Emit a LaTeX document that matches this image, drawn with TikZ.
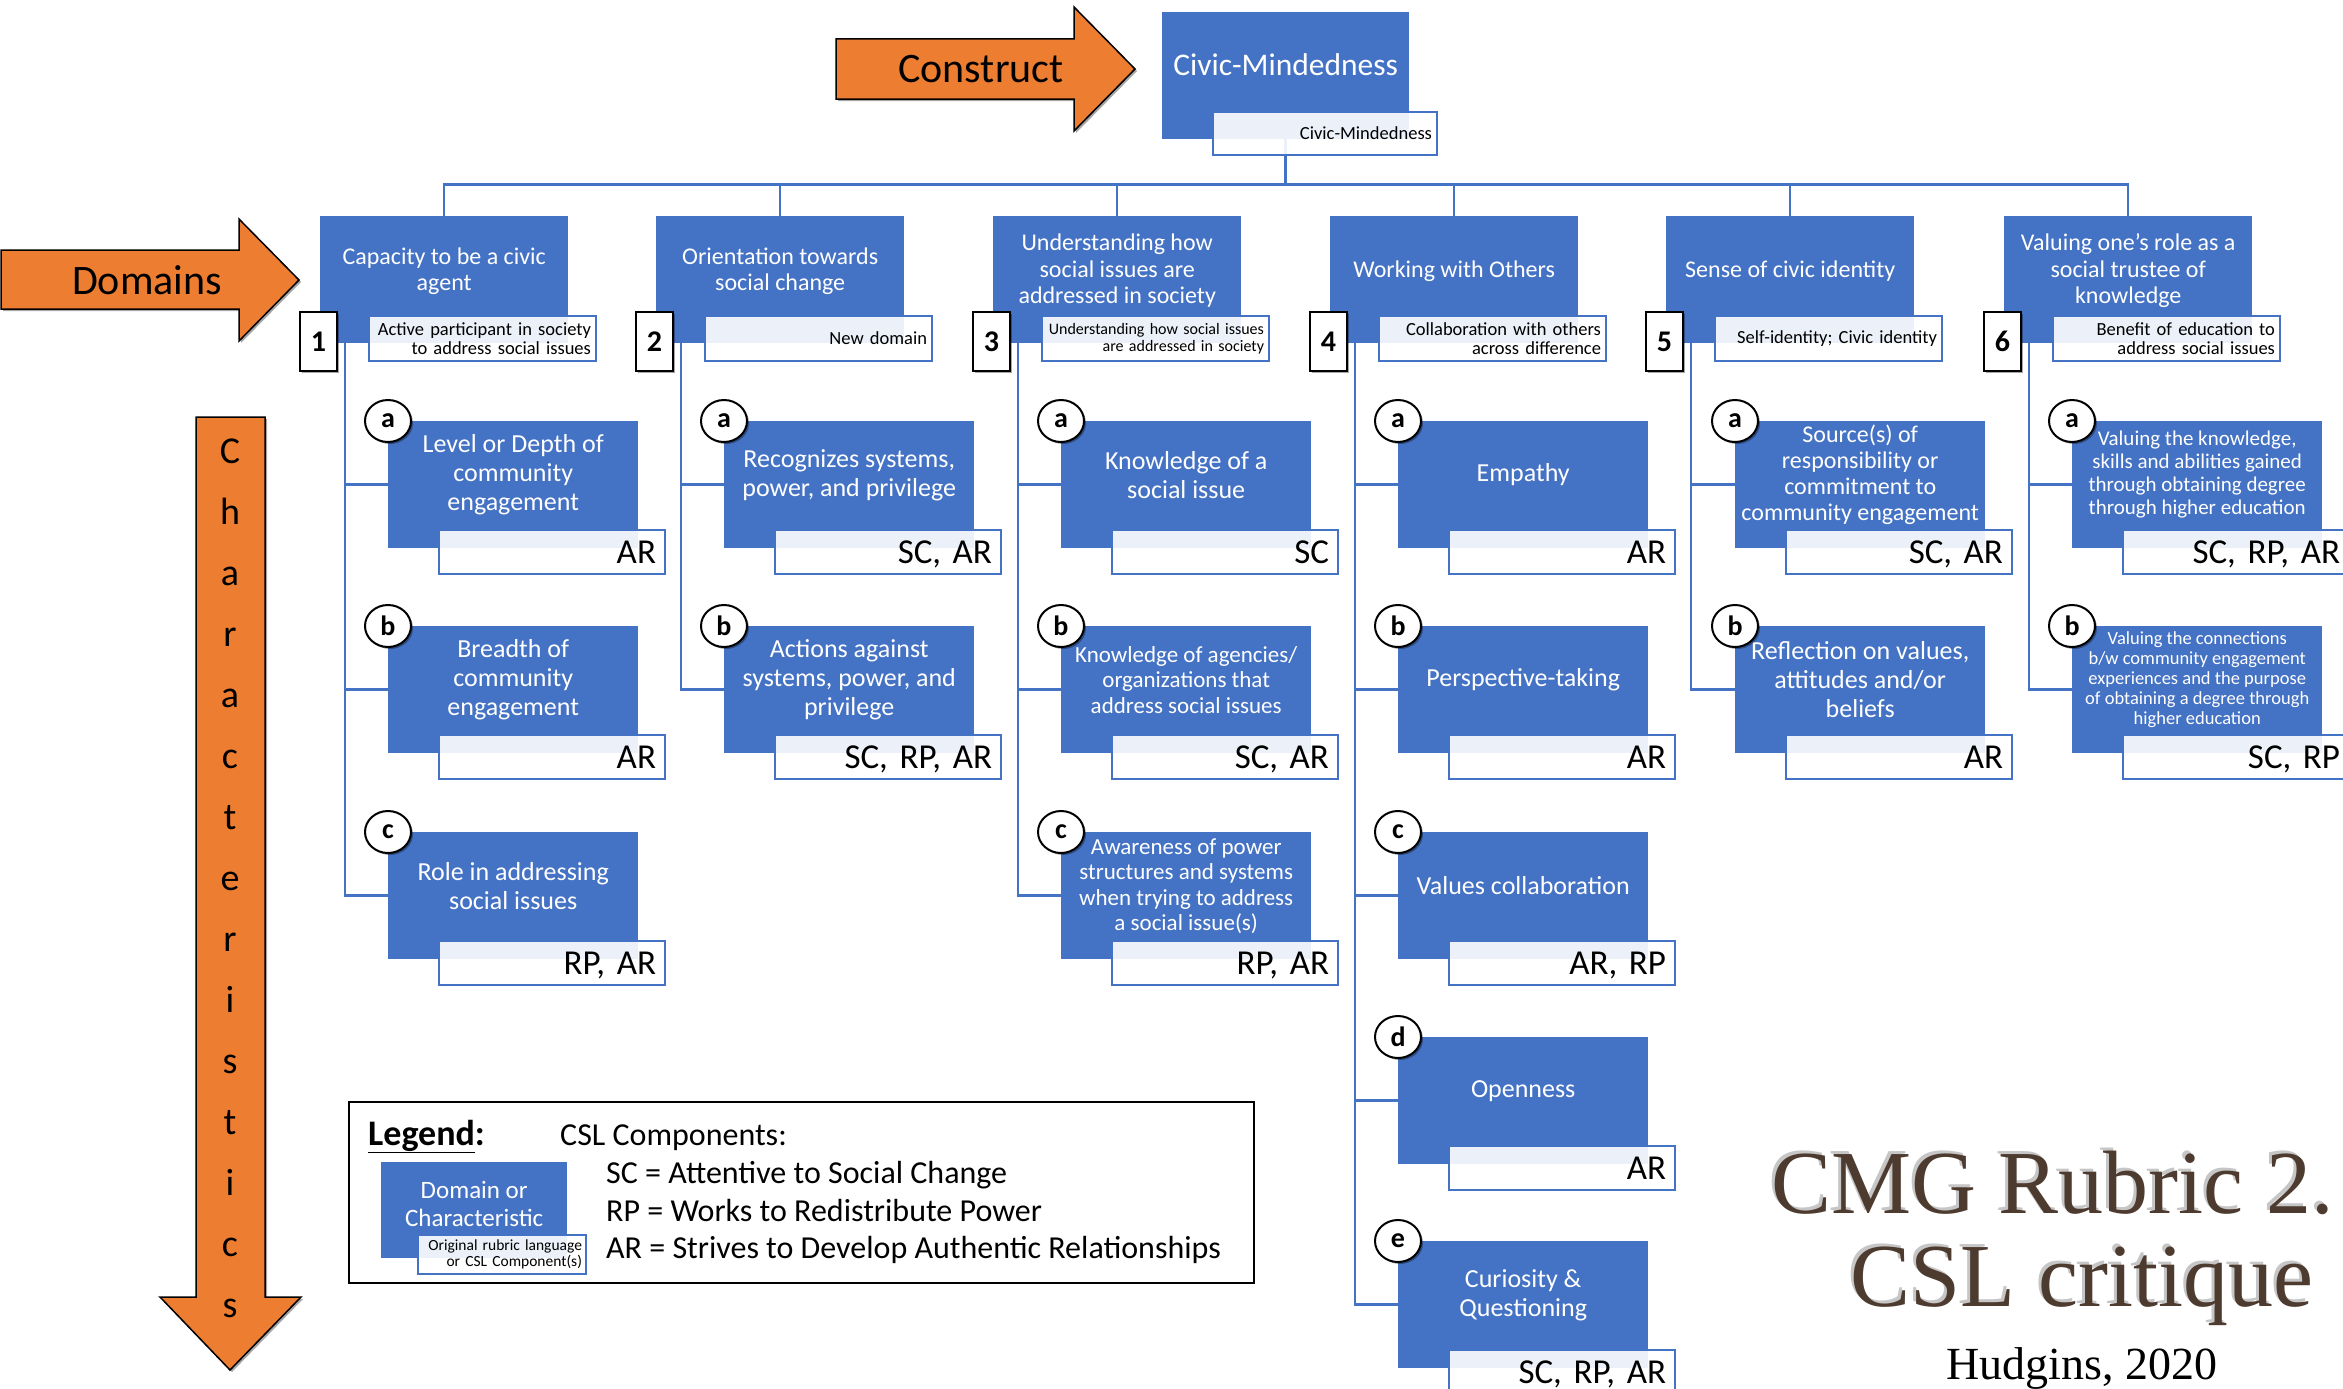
\documentclass[tikz,border=0pt]{standalone}
\usepackage{fontspec}
\setmainfont{Carlito}
\newfontfamily\titlefont{Liberation Serif}
\usetikzlibrary{shapes.geometric,backgrounds,shadows}

\definecolor{myblue}{HTML}{4472C4}
\definecolor{arroworange}{HTML}{ED7D31}
\definecolor{titlebrown}{HTML}{4E3B30}

\tikzset{
  conn/.style={draw=myblue, line width=2.5},
  dbox/.style={fill=myblue, minimum width=248, minimum height=127, anchor=north west, inner sep=0},
  cbox/.style={fill=myblue, minimum width=250, minimum height=127, anchor=north west, inner sep=0},
  boxtext/.style={text=white, align=center, inner sep=0},
  subbox/.style={draw=myblue, line width=2, fill=white, fill opacity=0.9, text opacity=1,
    text=black, anchor=north west, inner ysep=0, align=right},
  dsub/.style={subbox, inner xsep=5, text width=217, minimum height=45},
  csub/.style={subbox, inner xsep=9, text width=208, minimum height=44,
    font=\fontsize{35}{35}\selectfont, text height=24, text depth=2},
  softshadow/.style={drop shadow={shadow xshift=2pt, shadow yshift=-2pt, opacity=0.35, fill=black}},
  numbox/.style={draw=black, line width=2, fill=white, minimum width=37, minimum height=59,
    anchor=north west, inner sep=0, font=\bfseries\fontsize{30}{30}\selectfont, softshadow},
  badge/.style={ellipse, draw=black, line width=2, fill=white, minimum width=46, minimum height=42,
    inner sep=0, font=\bfseries\fontsize{28}{28}\selectfont, softshadow},
  bigarrow/.style={fill=arroworange, draw=black, line width=1.5, line join=miter, softshadow},
  arrowtext/.style={font=\fontsize{42}{42}\selectfont, text=black, inner sep=0},
  legendline/.style={anchor=base west, inner sep=0, font=\fontsize{32}{32}\selectfont},
  titleline/.style={inner sep=0, font=\titlefont\fontsize{90}{90}\selectfont, text=titlebrown},
  titleshade/.style={titleline, text=gray, opacity=0.45},
}

% domain: name, left x, number, label, sub label, sub font size, sub line skip
\newcommand\domainnode[7]{%
  \node[dbox] (#1) at (#2,216) {};
  \node[boxtext, font=\fontsize{24}{26.5}\selectfont] (#1-t) at ([yshift=-55pt]#1.north) {#4};
  \node[dsub, font=\fontsize{#6}{#7}\selectfont] (#1-s) at (#2+48,315) {#5};
  \node[numbox] (#1-n) at (#2-21,311) {#3};
}

% characteristic: name, left x, top y, letter, label, font size, line skip, CSL components
\newcommand\charnode[8]{%
  \node[cbox] (#1) at (#2,#3) {};
  \node[boxtext, font=\fontsize{#6}{#7}\selectfont] (#1-t) at ([yshift=-54pt]#1.north) {#5};
  \node[csub] (#1-s) at (#2+50,#3+108) {#8};
  \node[badge] (#1-b) at (#1.north west) {#4};
}

\begin{document}
\begin{tikzpicture}[x=1pt, y=-1pt]
\useasboundingbox (0,0) rectangle (2343,1389);
\clip (0,0) rectangle (2343,1389);

% construct
\node[dbox, minimum width=247] (civic) at (1162,12) {};
\node[boxtext, font=\fontsize{31.5}{34}\selectfont] (civic-t) at ([yshift=-53pt]civic.north) {Civic-Mindedness};
\node[dsub, text width=214, minimum height=43, font=\fontsize{18.5}{19.5}\selectfont] (civic-s) at (1212,111) {Civic-Mindedness};

% domains
\domainnode{d1}{320}{1}{Capacity to be a civic\\agent}{Active participant in society\\to address social issues}{18.5}{19.5}
\domainnode{d2}{656}{2}{Orientation towards\\social change}{New domain}{18.5}{19.5}
\domainnode{d3}{993}{3}{Understanding how\\social issues are\\addressed in society}{Understanding how social issues\\are addressed in society}{16}{17}
\domainnode{d4}{1330}{4}{Working with Others}{Collaboration with others\\across difference}{18.5}{19.5}
\domainnode{d5}{1666}{5}{Sense of civic identity}{Self-identity; Civic identity}{18.5}{19.5}
\domainnode{d6}{2004}{6}{Valuing one’s role as a\\social trustee of\\knowledge}{Benefit of education to\\address social issues}{18.5}{19.5}

% characteristics
\charnode{c1a}{388}{421}{a}{Level or Depth of\\community\\engagement}{26}{29}{AR}
\charnode{c1b}{388}{626}{b}{Breadth of\\community\\engagement}{26}{29}{AR}
\charnode{c1c}{388}{832}{c}{Role in addressing\\social issues}{26}{29}{RP, AR}

\charnode{c2a}{724}{421}{a}{Recognizes systems,\\power, and privilege}{26}{29}{SC, AR}
\charnode{c2b}{724}{626}{b}{Actions against\\systems, power, and\\privilege}{26}{29}{SC, RP, AR}

\charnode{c3a}{1061}{421}{a}{Knowledge of a\\social issue}{26}{29}{SC}
\charnode{c3b}{1061}{626}{b}{Knowledge of agencies/\\organizations that\\address social issues}{23}{25.5}{SC, AR}
\charnode{c3c}{1061}{832}{c}{Awareness of power\\structures and systems\\when trying to address\\a social issue(s)}{23}{25.5}{RP, AR}

\charnode{c4a}{1398}{421}{a}{Empathy}{26}{29}{AR}
\charnode{c4b}{1398}{626}{b}{Perspective-taking}{26}{29}{AR}
\charnode{c4c}{1398}{832}{c}{Values collaboration}{26}{29}{AR, RP}
\charnode{c4d}{1398}{1037}{d}{Openness}{26}{29}{AR}
\charnode{c4e}{1398}{1241}{e}{Curiosity \&\\Questioning}{26}{29}{SC, RP, AR}

\charnode{c5a}{1735}{421}{a}{Source(s) of\\responsibility or\\commitment to\\community engagement}{24}{26}{SC, AR}
\charnode{c5b}{1735}{626}{b}{Reflection on values,\\attitudes and/or\\beliefs}{26}{29}{AR}

\charnode{c6a}{2072}{421}{a}{Valuing the knowledge,\\skills and abilities gained\\through obtaining degree\\through higher education}{21}{23}{SC, RP, AR}
\charnode{c6b}{2072}{626}{b}{Valuing the connections\\b/w community engagement\\experiences and the purpose\\of obtaining a degree through\\higher education}{18.5}{20}{SC, RP}

% hierarchy connectors
\begin{pgfonlayer}{background}
  \draw[conn] (civic.south) -- ++(0,45) coordinate (bus);
  \foreach \d in {d1,d2,d3,d4,d5,d6}
    \draw[conn] (bus) -| (\d.north);
  \foreach \k in {c1a,c1b,c1c}
    \draw[conn] ([xshift=25pt]d1.south west) |- (\k.west);
  \foreach \k in {c2a,c2b}
    \draw[conn] ([xshift=25pt]d2.south west) |- (\k.west);
  \foreach \k in {c3a,c3b,c3c}
    \draw[conn] ([xshift=25pt]d3.south west) |- (\k.west);
  \foreach \k in {c4a,c4b,c4c,c4d,c4e}
    \draw[conn] ([xshift=25pt]d4.south west) |- (\k.west);
  \foreach \k in {c5a,c5b}
    \draw[conn] ([xshift=25pt]d5.south west) |- (\k.west);
  \foreach \k in {c6a,c6b}
    \draw[conn] ([xshift=25pt]d6.south west) |- (\k.west);
\end{pgfonlayer}

% orange block arrows
\draw[bigarrow] (836,39) -- (1074,39) -- (1074,7) -- (1135,69) -- (1074,131) -- (1074,99) -- (836,99) -- cycle;
\node[arrowtext] (construct-t) at (981,69) {Construct};

\draw[bigarrow] (1,250) -- (239,250) -- (239,219) -- (299,280) -- (239,341) -- (239,309) -- (1,309) -- cycle;
\node[arrowtext] (domains-t) at (147,280) {Domains};

\draw[bigarrow] (196,417) -- (265,417) -- (265,1297) -- (301,1297) -- (230,1370) -- (160,1297) -- (196,1297) -- cycle;
\node[arrowtext, font=\fontsize{38}{61}\selectfont, align=center] (chars-t) at (230,878)
  {C\\h\\a\\r\\a\\c\\t\\e\\r\\i\\s\\t\\i\\c\\s};

% legend
\node[draw=black, line width=2, minimum width=905, minimum height=181, anchor=north west, inner sep=0] (legend) at (348,1101) {};
\node[legendline, font=\bfseries\fontsize{36}{36}\selectfont] (leg-title) at (368,1145) {\underline{Legend}:};
\node[legendline] (leg-csl) at (560,1145) {CSL Components:};
\node[legendline] (leg-sc) at (606,1183) {SC = Attentive to Social Change};
\node[legendline] (leg-rp) at (606,1221) {RP = Works to Redistribute Power};
\node[legendline] (leg-ar) at (606,1258) {AR = Strives to Develop Authentic Relationships};
\node[fill=myblue, minimum width=186, minimum height=96, anchor=north west, inner sep=0] (leg-box) at (381,1162) {};
\node[boxtext, font=\fontsize{25}{28}\selectfont] (leg-box-t) at ([yshift=-42pt]leg-box.north) {Domain or\\Characteristic};
\node[subbox, inner xsep=4, text width=160, minimum height=39, font=\fontsize{15.5}{16.5}\selectfont] (leg-sub) at (417,1234)
  {Original rubric language\\or CSL Component(s)};

% title
\node[titleshade, anchor=base west] (t1-sh) at (1768,1210) {CMG Rubric 2.};
\node[titleshade, anchor=base] (t2-sh) at (2079,1303) {CSL critique};
\node[titleline, anchor=base west] (t1) at (1771,1213) {CMG Rubric 2.};
\node[titleline, anchor=base] (t2) at (2082,1306) {CSL critique};
\node[anchor=base, inner sep=0, font=\titlefont\fontsize{46}{46}\selectfont, text=black] (t3) at (2082,1379) {Hudgins, 2020};
\end{tikzpicture}
\end{document}
